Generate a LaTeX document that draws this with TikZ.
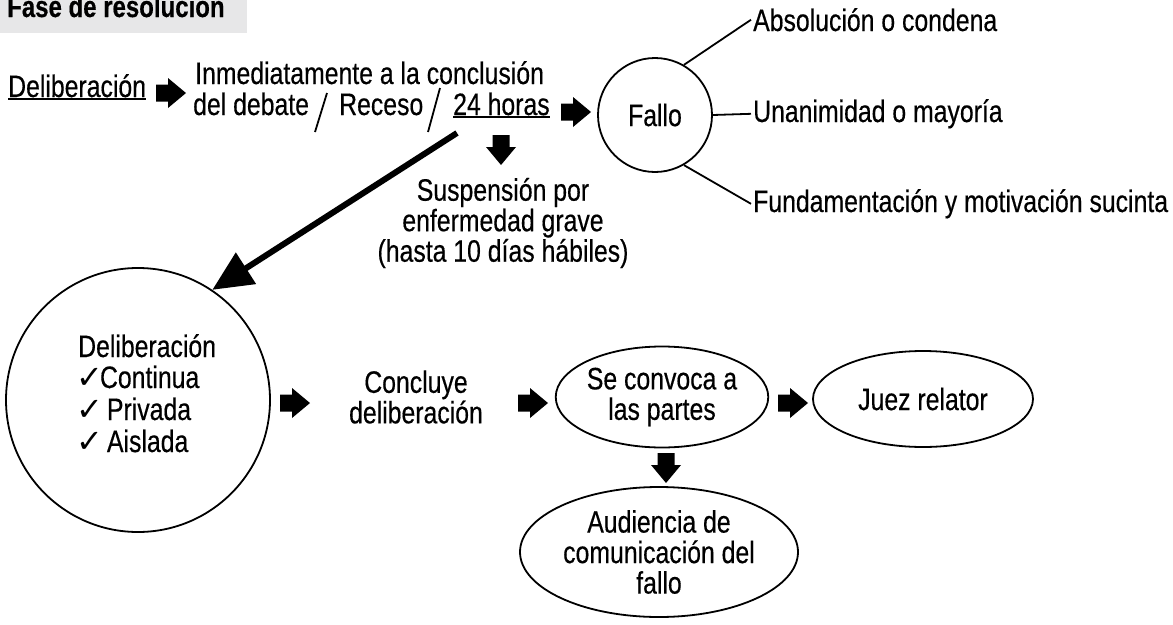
\documentclass[tikz,border=0pt]{standalone}
\usepackage{fontspec}
\setmainfont{Liberation Sans}[FakeStretch=0.8, FakeBold=0.4]
\newfontfamily\symfont{DejaVu Sans}
\usetikzlibrary{arrows.meta}
\definecolor{titlegray}{RGB}{231,231,232}
\newcommand\ulin[1]{\setbox0\hbox{#1}\rlap{\rule[-2.5pt]{\wd0}{1.6pt}}\box0}
\newcommand\chk{{\symfont\fontsize{32}{32}\selectfont ✓}}
\tikzset{
  txt/.style={font=\fontsize{31}{30.5}\selectfont, inner sep=0pt},
  bw/.style={txt, anchor=base west},
  ring/.style={draw, circle, line width=1.8pt, txt},
  oval/.style={draw, ellipse, line width=1.8pt, txt, align=center},
  link/.style={line width=1.8pt},
  slash/.style={line width=1.8pt},
  barr/.pic={\fill (-15,-8.5) -- (-3,-8.5) -- (-3,-15) -- (15,0) -- (-3,15) -- (-3,8.5) -- (-15,8.5) -- cycle;}
}
\usetikzlibrary{shapes.geometric}
\begin{document}
\begin{tikzpicture}[x=1pt,y=-1pt]
\useasboundingbox (0,0) rectangle (1173,624);
\fill[titlegray] (0,0) rectangle (247,33);
\node[bw, font=\bfseries\fontsize{30}{30}\selectfont] (title) at (7,17) {Fase de resolución};

\node[bw] (delib) at (8,97) {\ulin{Deliberación}};
\pic at (171,93) {barr};
\node[bw] (inmed) at (195,84) {Inmediatamente a la conclusión};
\node[bw] (debate) at (193,115) {del debate};
\node[bw] (receso) at (339,115) {Receso};
\node[bw] (horas) at (453,115) {\ulin{24 horas}};
\draw[slash] (315,132) -- (327,93);
\draw[slash] (428,132) -- (440,88);
\pic at (576,112) {barr};

\node[ring, minimum size=114pt] (fallo) at (655,115) {Fallo};
\node[bw, inner sep=2pt] (abs) at (751,31) {Absolución o condena};
\node[bw, inner sep=2pt] (una) at (751,122) {Unanimidad o mayoría};
\node[bw, inner sep=2pt] (fund) at (751,212) {Fundamentación y motivación sucinta};
\draw[link] (fallo.60) -- (abs.west);
\draw[link] (fallo.east) -- (una.west);
\draw[link] (fallo.-60) -- (fund.west);

\pic[rotate=-90] at (501,150) {barr};
\node[txt, align=center] (susp) at (503,223) {Suspensión por\\enfermedad grave\\(hasta 10 días hábiles)};

\node[ring, minimum size=264pt] (delib2) at (138,400) {};
\node[bw] (d1) at (78,357) {Deliberación};
\node[bw] (d2) at (76,388) {\chk\hspace{-3pt}Continua};
\node[bw] (d3) at (76,420) {\chk\hspace{4pt}Privada};
\node[bw] (d4) at (76,452) {\chk\hspace{4pt}Aislada};

\coordinate (bigstart) at (457,133);
\draw[line width=6pt, -{Triangle[length=40pt,width=36pt]}] (bigstart) -- (delib2.56);

\pic at (295,403) {barr};
\node[txt, align=center] (concl) at (416,397) {Concluye\\deliberación};
\pic at (533,403) {barr};
\node[oval, minimum width=210pt, minimum height=101pt] (convoca) at (662,397) {Se convoca a\\las partes};
\pic at (793,403) {barr};
\node[oval, minimum width=220pt, minimum height=96pt] (juez) at (923,399) {Juez relator};
\pic[rotate=-90] at (666,468) {barr};
\node[oval, minimum width=278pt, minimum height=130pt] (aud) at (659,552) {Audiencia de\\comunicación del\\fallo};
\end{tikzpicture}
\end{document}
